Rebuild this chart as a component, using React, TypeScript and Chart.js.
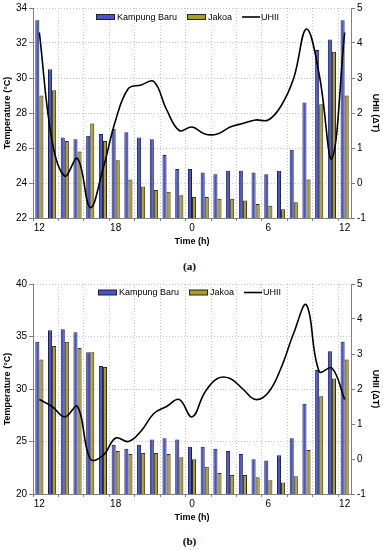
import React, { useEffect, useRef } from 'react';
import { Chart, registerables } from 'chart.js';
Chart.register(...registerables);

const hours = ['12','13','14','15','16','17','18','19','20','21','22','23','0','1','2','3','4','5','6','7','8','9','10','11','12'];
const xLabelEvery = 6;

// Panel (a)
const kampungA = [33.3,30.5,26.6,26.5,26.7,26.8,27.1,26.9,26.6,26.5,25.6,24.8,24.8,24.6,24.5,24.7,24.7,24.6,24.5,24.7,25.9,28.6,31.6,32.2,33.3];
const jakoaA = [29.0,29.3,26.4,25.8,27.4,26.4,25.3,24.2,23.8,23.6,23.5,23.3,23.2,23.2,23.1,23.1,23.0,22.8,22.7,22.5,22.9,24.2,28.5,31.5,29.0];
const uhiiA = [4.3,1.2,0.2,0.7,-0.7,0.4,1.8,2.7,2.8,2.9,2.1,1.5,1.6,1.4,1.4,1.6,1.7,1.8,1.8,2.2,3.0,4.4,3.1,0.7,4.3];

// Panel (b)
const kampungB = [34.5,35.6,35.7,35.4,33.5,32.2,24.7,24.3,24.7,25.2,25.3,25.2,24.5,24.5,24.3,24.1,23.8,23.3,23.2,23.7,25.3,28.6,31.8,33.6,34.5];
const jakoaB = [32.8,34.1,34.5,33.9,33.5,32.1,24.1,23.8,23.9,23.9,23.8,23.5,23.3,22.6,22.0,21.8,21.8,21.6,21.3,21.1,21.7,24.2,29.3,31.0,32.8];
const uhiiB = [1.7,1.5,1.2,1.5,0.0,0.1,0.6,0.5,0.8,1.3,1.5,1.7,1.2,1.9,2.3,2.3,2.0,1.7,1.9,2.6,3.6,4.4,2.5,2.6,1.7];

const tempAxisA = { min: 22, max: 34, step: 2 };
const tempAxisB = { min: 20, max: 40, step: 5 };
const uhiiAxis = { min: -1, max: 5, step: 1 };

const seriesNames = ['Kampung Baru', 'Jakoa', 'UHII'];
const FONT = "'Liberation Sans', Arial, sans-serif";
const BLUE = '#4655cc';
const OLIVE = '#aa9c2e';
const GRID = '#c4c4c4';
const AXIS = '#808080';

const W = 383;
const H = 251;

function makeLegend(x0: number, dy: number) {
  return {
    id: 'innerLegend',
    afterDraw(chart: any) {
      const ctx = chart.ctx;
      const y = chart.chartArea.top + dy;
      ctx.save();
      ctx.font = `9px ${FONT}`;
      ctx.textBaseline = 'middle';
      ctx.fillStyle = '#000';
      let x = x0;
      const fills = [BLUE, OLIVE];
      for (let i = 0; i < 2; i++) {
        ctx.fillStyle = fills[i];
        ctx.fillRect(x, y - 2.5, 19, 5);
        ctx.strokeStyle = '#222';
        ctx.lineWidth = 1;
        ctx.strokeRect(x + 0.5, y - 2.5, 18, 5);
        x += 21;
        ctx.fillStyle = '#000';
        ctx.fillText(seriesNames[i], x, y + 0.5);
        x += ctx.measureText(seriesNames[i]).width + 10;
      }
      ctx.strokeStyle = '#000';
      ctx.lineWidth = 1.6;
      ctx.beginPath();
      ctx.moveTo(x, y);
      ctx.lineTo(x + 18, y);
      ctx.stroke();
      x += 19;
      ctx.fillText(seriesNames[2], x, y + 0.5);
      ctx.restore();
    },
  };
}

function Panel({ top, kb, jk, uhii, axis, legendX, legendDy }: any) {
  const ref = useRef<HTMLCanvasElement>(null);
  useEffect(() => {
    const chart = new Chart(ref.current as HTMLCanvasElement, {
      type: 'bar',
      data: {
        labels: hours,
        datasets: [
          { type: 'bar', label: seriesNames[0], data: kb, backgroundColor: BLUE, borderColor: '#1e1e4e', borderWidth: 1, barPercentage: 1, categoryPercentage: 0.64, yAxisID: 'y', order: 1 },
          { type: 'bar', label: seriesNames[1], data: jk, backgroundColor: OLIVE, borderColor: '#2e2c10', borderWidth: 1, barPercentage: 1, categoryPercentage: 0.64, yAxisID: 'y', order: 1 },
          { type: 'line', label: seriesNames[2], data: uhii, borderColor: '#000', borderWidth: 1.6, pointRadius: 0, tension: 0.4, fill: false, yAxisID: 'y1', order: 0 },
        ] as any,
      },
      options: {
        responsive: false,
        animation: false,
        layout: { padding: { top: 7, left: 0, right: 0, bottom: 0 } },
        plugins: { legend: { display: false }, tooltip: { enabled: false } },
        font: { family: FONT },
        scales: {
          x: {
            grid: {
              offset: true,
              color: (c: any) => (c.index % 2 === 0 ? GRID : 'rgba(0,0,0,0)'),
              tickColor: (c: any) => (c.index % 2 === 0 ? AXIS : 'rgba(0,0,0,0)'),
              tickLength: 3,
              borderDash: [1, 2],
              tickBorderDash: [],
            },
            border: { display: true, color: AXIS, width: 1, dash: [1, 2] },
            ticks: {
              autoSkip: false,
              maxRotation: 0,
              padding: 1,
              color: '#000',
              font: { size: 10, family: FONT },
              callback: (_v: any, i: number) => (i % xLabelEvery === 0 ? hours[i] : ''),
            },
            title: { display: true, text: 'Time (h)', color: '#000', font: { size: 9, weight: 'bold', family: FONT }, padding: { top: 2, bottom: 4 } },
            afterFit: (s: any) => { s.height = 33; },
          },
          y: {
            position: 'left',
            min: axis.min,
            max: axis.max,
            grid: { color: GRID, tickColor: AXIS, tickLength: 4, borderDash: [1, 2], tickBorderDash: [] },
            border: { display: true, color: AXIS, width: 1, dash: [1, 2] },
            ticks: { stepSize: axis.step, padding: 2, color: '#000', font: { size: 10, family: FONT } },
            title: { display: true, text: 'Temperature (°C)', color: '#000', font: { size: 9, weight: 'bold', family: FONT }, padding: { top: 2, bottom: 2 } },
            afterFit: (s: any) => { s.width = 33; },
          },
          y1: {
            position: 'right',
            min: uhiiAxis.min,
            max: uhiiAxis.max,
            grid: { drawOnChartArea: false, tickColor: AXIS, tickLength: 4, tickBorderDash: [] },
            border: { display: true, color: AXIS, width: 1 },
            ticks: { stepSize: uhiiAxis.step, padding: 2, color: '#000', font: { size: 10, family: FONT } },
            title: { display: true, text: 'UHII (ΔT)', color: '#000', font: { size: 9, weight: 'bold', family: FONT }, padding: { top: 2, bottom: 2 } },
            afterFit: (s: any) => { s.width = 32; },
          },
        },
      } as any,
      plugins: [makeLegend(legendX, legendDy)],
    });
    return () => chart.destroy();
  }, []);
  return (
    <div style={{ position: 'absolute', left: 0, top, width: W, height: H }}>
      <canvas ref={ref} width={W} height={H} style={{ width: W, height: H, display: 'block' }} />
    </div>
  );
}

const capStyle: any = {
  position: 'absolute', left: 0, width: W, textAlign: 'center',
  fontFamily: "'Liberation Serif', 'Times New Roman', serif", fontSize: 11, fontWeight: 'bold', lineHeight: '12px', color: '#000',
};

export default function App() {
  return (
    <div style={{ position: 'absolute', left: 0, top: 0, width: W, height: 550, background: '#fff' }}>
      <Panel top={0} kb={kampungA} jk={jakoaA} uhii={uhiiA} axis={tempAxisA} legendX={96} legendDy={9} />
      <div style={{ ...capStyle, top: 260, left: -2 }}>(a)</div>
      <Panel top={276} kb={kampungB} jk={jakoaB} uhii={uhiiB} axis={tempAxisB} legendX={98} legendDy={8.5} />
      <div style={{ ...capStyle, top: 535, left: -2 }}>(b)</div>
    </div>
  );
}
